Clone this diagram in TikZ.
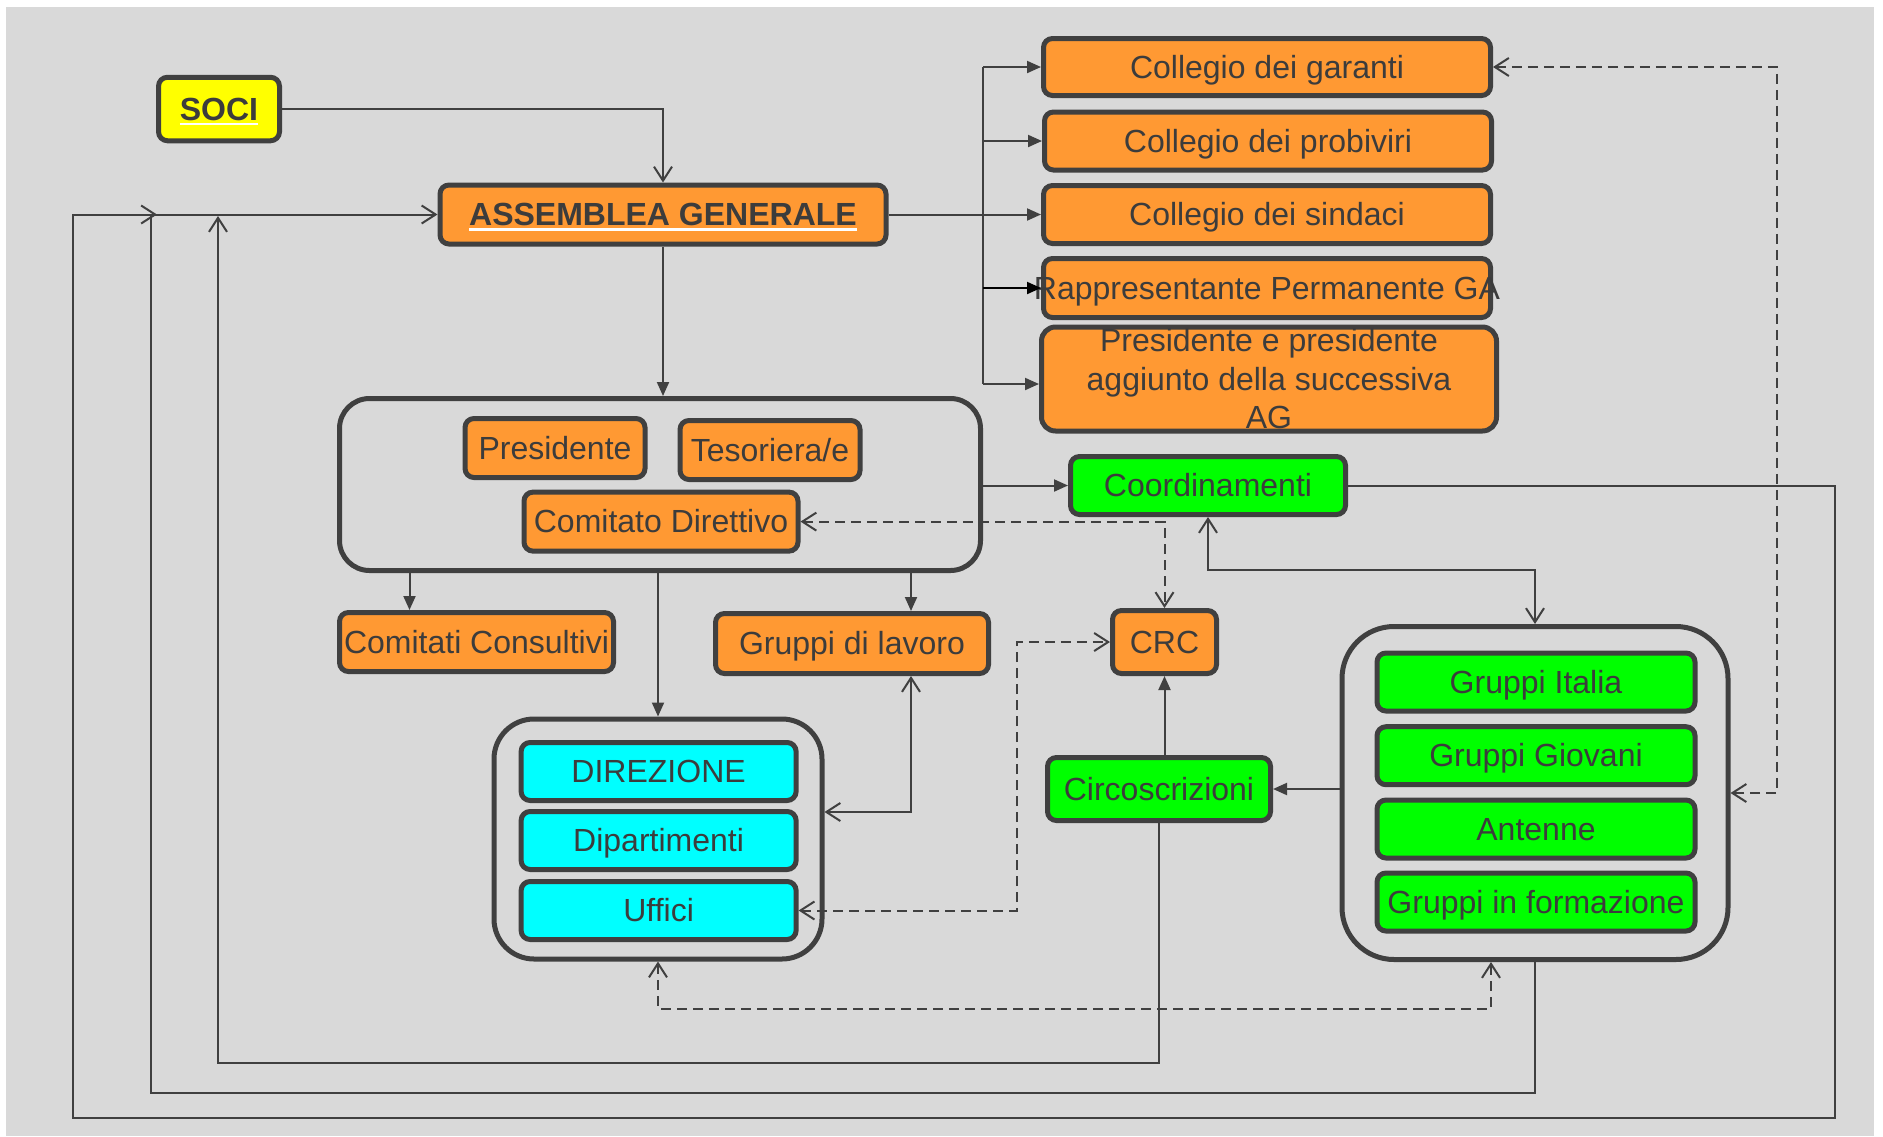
\documentclass[tikz,border=0pt]{standalone}
\usepackage{fontspec}
\setmainfont{Liberation Sans}
\usetikzlibrary{arrows.meta}
\definecolor{bg}{HTML}{D9D9D9}
\definecolor{bord}{HTML}{404040}
\definecolor{txt}{HTML}{3C3C3C}
\definecolor{orng}{HTML}{FF9933}
\definecolor{grn}{HTML}{00FF00}
\definecolor{cyn}{HTML}{00FFFF}
\definecolor{ylw}{HTML}{FFFF00}
\newcommand\wul[1]{\setbox0\hbox{#1}\rlap{\textcolor{white}{\rule[-5pt]{\wd0}{2.5pt}}}\box0}
\begin{document}
\begin{tikzpicture}[x=1pt,y=-1pt,
  bxbase/.style={draw=bord,line width=5pt,rounded corners=9pt,inner sep=0pt,text=txt,font=\fontsize{32}{38.5}\selectfont},
  bx/.style={bxbase,text height=29pt,text depth=6.8pt},
  cont/.style={draw=bord,line width=5pt,rounded corners=#1,inner sep=0pt},
  conn/.style={draw=bord,line width=2pt},
  fa/.style={-{Triangle[length=14pt,width=12pt]}},
  oa/.style={-{Straight Barb[length=14pt,width=18pt]}},
  oo/.style={{Straight Barb[length=14pt,width=18pt]}-{Straight Barb[length=14pt,width=18pt]}},
  dsh/.style={dash pattern=on 10pt off 6pt}]
\useasboundingbox (0,0) rectangle (1883,1136);
\fill[white] (0,0) rectangle (1883,1136);
\fill[bg] (6,7) rectangle (1874,1136);

% containers
\node[cont=30pt,minimum width=641pt,minimum height=172pt] (cont1) at (660,484.5) {};
\node[cont=40pt,minimum width=328pt,minimum height=240pt] (cont2) at (658,839) {};
\node[cont=52pt,minimum width=386pt,minimum height=333pt] (cont3) at (1535,793) {};

% nodes
\node[bx,fill=ylw,minimum width=121pt,minimum height=63.5pt] (soci) at (219,109) {\bfseries\wul{SOCI}};
\node[bx,fill=orng,minimum width=446pt,minimum height=59pt] (ag) at (663,214.5) {\bfseries\wul{ASSEMBLEA GENERALE}};
\node[bx,fill=orng,minimum width=447pt,minimum height=57pt] (garanti) at (1267,67) {Collegio dei garanti};
\node[bx,fill=orng,minimum width=447pt,minimum height=58pt] (probiviri) at (1268,141) {Collegio dei probiviri};
\node[bx,fill=orng,minimum width=447pt,minimum height=58pt] (sindaci) at (1267,214.5) {Collegio dei sindaci};
\node[bx,fill=orng,minimum width=447pt,minimum height=59pt] (rapp) at (1267,288) {\makebox[0pt]{Rappresentante Permanente GA}};
\node[bxbase,fill=orng,align=center,minimum width=455pt,minimum height=104pt,rounded corners=14pt] (presag) at (1269,379) {Presidente e presidente\\aggiunto della successiva\\AG};
\node[bx,fill=grn,minimum width=275pt,minimum height=58pt] (coord) at (1208,485.5) {Coordinamenti};
\node[bx,fill=orng,minimum width=180pt,minimum height=59pt] (pres) at (555,448) {Presidente};
\node[bx,fill=orng,minimum width=180pt,minimum height=59pt] (tes) at (770,450) {Tesoriera/e};
\node[bx,fill=orng,minimum width=274pt,minimum height=59pt] (cd) at (661,521.6) {Comitato Direttivo};
\node[bx,fill=orng,minimum width=274pt,minimum height=59pt] (cc) at (476.5,642) {Comitati Consultivi};
\node[bx,fill=orng,minimum width=273pt,minimum height=60pt] (gdl) at (852,643.5) {Gruppi di lavoro};
\node[bx,fill=orng,minimum width=104pt,minimum height=63pt] (crc) at (1164.5,642) {CRC};
\node[bx,fill=grn,minimum width=223pt,minimum height=63pt] (circ) at (1159,789) {Circoscrizioni};
\node[bx,fill=cyn,minimum width=275pt,minimum height=58pt] (dir) at (658.6,771.5) {DIREZIONE};
\node[bx,fill=cyn,minimum width=275pt,minimum height=58pt] (dip) at (658.6,840.5) {Dipartimenti};
\node[bx,fill=cyn,minimum width=275pt,minimum height=58pt] (uff) at (658.6,910.5) {Uffici};
\node[bx,fill=grn,minimum width=318pt,minimum height=58pt] (gi) at (1536,682) {Gruppi Italia};
\node[bx,fill=grn,minimum width=318pt,minimum height=58pt] (gg) at (1536,755.7) {Gruppi Giovani};
\node[bx,fill=grn,minimum width=318pt,minimum height=58pt] (ant) at (1536,829) {Antenne};
\node[bx,fill=grn,minimum width=318pt,minimum height=58pt] (gif) at (1536,902) {Gruppi in formazione};

% connectors
\draw[conn,oa] (soci.east) -| (ag.north);
\draw[conn,fa] (ag.south) -- (ag.south |- cont1.north);
\draw[conn,fa] (ag.east) -- (sindaci.west);
\coordinate (bus) at (983,0);
\coordinate (pin) at ([yshift=-5pt]presag.west);
\draw[conn] (bus |- garanti.west) -- (bus |- pin);
\draw[conn,fa] (bus |- garanti.west) -- (garanti.west);
\draw[conn,fa] (bus |- probiviri.west) -- (probiviri.west);
\draw[conn,fa,draw=black] (bus |- rapp.west) -- (rapp.west);
\draw[conn,fa] (bus |- pin) -- (pin);
\draw[conn,fa] (cont1.east |- coord.west) -- (coord.west);
\draw[conn,dsh,oo] (cd.east) -| (crc.north);
\draw[conn,oo] (coord.south) -- ++(0,53) -| (cont3.north);
\coordinate (rx) at (1777,0);
\draw[conn,dsh,oo] (garanti.east) -- (garanti.east -| rx) |- (cont3.east);
\coordinate (oR) at (1835,1118);
\coordinate (oL) at (72.5,1118);
\draw[conn,oa] (coord.east) -| (oR) -- (oL) |- (ag.west);
\coordinate (mL) at (151,1092.7);
\coordinate (mT) at (157,214.5);
\draw[conn,oa] (cont3.south) |- (mL) |- (mT);
\coordinate (cL) at (218,1063);
\coordinate (cT) at (218,216);
\draw[conn,oa] (circ.south) |- (cL) -- (cT);
\draw[conn,fa] (cont3.west |- circ.east) -- (circ.east);
\draw[conn,fa] (crc.south |- circ.north) -- (crc.south);
\coordinate (dx) at (1017,0);
\draw[conn,dsh,oo] (uff.east) -- (uff.east -| dx) |- (crc.west);
\coordinate (ccin) at ([xshift=-67pt]cc.north);
\draw[conn,fa] (ccin |- cont1.south) -- (ccin);
\coordinate (gdin) at ([xshift=59pt]gdl.north);
\draw[conn,fa] (gdin |- cont1.south) -- (gdin);
\draw[conn,fa] (cont2.north |- cont1.south) -- (cont2.north);
\coordinate (gdout) at ([xshift=59pt]gdl.south);
\draw[conn,oo] (gdout) |- ([yshift=27pt]cont2.east);
\coordinate (g3b) at ([xshift=-44pt]cont3.south);
\draw[conn,dsh,oo] (cont2.south) -- ++(0,47.5) -| (g3b);
\end{tikzpicture}
\end{document}
